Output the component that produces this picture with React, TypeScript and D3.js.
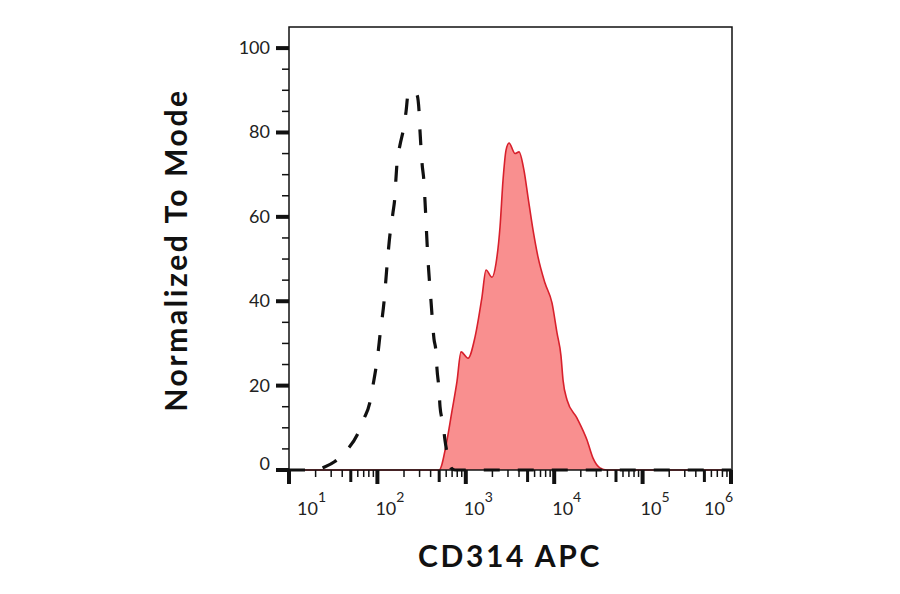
import { useRef, useEffect } from 'react';
import * as d3 from 'd3';

// Isotype control (dashed) - intensity / normalized count
const controlIntensity = [10, 21, 24, 33, 45, 59, 69, 82, 89, 96, 102, 107, 119, 128, 139, 150, 158, 162, 167, 180, 200, 211, 222, 246, 280, 296, 303, 311, 320, 337, 345, 373, 404, 437, 460, 472, 498, 511, 552, 582, 629, 681, 755, 1000000];
const controlCount = [0, 0, 0.5, 2, 4.7, 8.3, 11.8, 15.9, 20, 24, 28, 32, 40, 48, 56, 61, 65, 69, 73, 77, 81.5, 85, 89, 90, 89, 85, 80.5, 76.5, 72.7, 68, 64, 50, 40, 31, 28, 24, 19, 15, 11, 7, 3, 0.5, 0, 0];

// CD314 APC stained (red filled)
const stainIntensity = [10, 498, 612, 698, 795, 883, 1060, 1271, 1524, 1693, 1978, 2197, 2438, 2637, 2852, 3084, 3606, 4000, 4552, 5054, 5758, 6557, 7870, 9441, 10760, 11940, 12590, 13970, 18120, 23500, 27480, 32960, 39560, 1000000];
const stainCount = [0, 0, 7, 14, 21, 28, 26.5, 31.5, 41, 47.4, 45.7, 49, 57.6, 68.7, 75.8, 77.5, 75, 75.4, 71, 64.7, 56.9, 50.5, 44.3, 39.6, 32.5, 27, 21.3, 16.6, 12.3, 7.1, 2.8, 0.5, 0, 0];

const xMajorTicks = [1e1, 1e2, 1e3, 1e4, 1e5, 1e6];
const xMinorMultipliers = [2, 3, 4, 5, 6, 7, 8, 9];
const xTickExponents = ['1', '2', '3', '4', '5', '6'];
const yMajorTicks = [0, 20, 40, 60, 80, 100];
const yMinorTicks = [5, 10, 15, 25, 30, 35, 45, 50, 55, 65, 70, 75, 85, 90, 95];

const FONT = 'Lato, "Open Sans", sans-serif';

export default function App() {
    const chartRef = useRef<SVGSVGElement>(null);

    useEffect(() => {
        if (!chartRef.current) return;
        const svg = d3.select(chartRef.current);
        svg.selectAll('*').remove();

        const left = 289, right = 731, top = 27, bottom = 470;

        const x = d3.scaleLog().domain([10, 1e6]).range([left, right]);
        const y = d3.scaleLinear().domain([0, 105]).range([bottom, top]);

        const line = d3.line<[number, number]>()
            .x(d => x(d[0]))
            .y(d => y(d[1]))
            .curve(d3.curveMonotoneX);
        const area = d3.area<[number, number]>()
            .x(d => x(d[0]))
            .y0(y(0))
            .y1(d => y(d[1]))
            .curve(d3.curveMonotoneX);

        const stainData = stainIntensity.map((v, i) => [v, stainCount[i]] as [number, number]);
        const controlData = controlIntensity.map((v, i) => [v, controlCount[i]] as [number, number]);

        // Filled stained histogram
        svg.append('path')
            .attr('d', area(stainData))
            .attr('fill', '#f98f8f');
        svg.append('path')
            .attr('d', line(stainData))
            .attr('fill', 'none')
            .attr('stroke', '#d8202c')
            .attr('stroke-width', 1.6);

        // Dashed isotype control
        svg.append('path')
            .attr('d', line(controlData))
            .attr('fill', 'none')
            .attr('stroke', '#111')
            .attr('stroke-width', 3.2)
            .attr('stroke-dasharray', '16,18');

        // Frame
        svg.append('path')
            .attr('d', `M${left},${bottom}V${top}H${right + 1}V${bottom}`)
            .attr('fill', 'none')
            .attr('stroke', '#111')
            .attr('stroke-width', 1.5);
        svg.append('line')
            .attr('x1', left).attr('x2', right + 1)
            .attr('y1', bottom).attr('y2', bottom)
            .attr('stroke', '#111').attr('stroke-width', 1.5);

        // Y ticks
        yMinorTicks.forEach(t => {
            svg.append('line')
                .attr('x1', left - 7).attr('x2', left)
                .attr('y1', y(t)).attr('y2', y(t))
                .attr('stroke', '#111').attr('stroke-width', 1.5);
        });
        yMajorTicks.forEach(t => {
            svg.append('line')
                .attr('x1', left - 13).attr('x2', left)
                .attr('y1', y(t)).attr('y2', y(t))
                .attr('stroke', '#111').attr('stroke-width', 4);
            svg.append('text')
                .attr('x', left - 19)
                .attr('y', y(t) + (t === 0 ? 0 : 6))
                .attr('text-anchor', 'end')
                .style('font-family', FONT)
                .style('font-size', '18px')
                .style('fill', '#222')
                .text(t);
        });

        // X ticks
        xMajorTicks.slice(0, -1).forEach(decade => {
            xMinorMultipliers.forEach(m => {
                const px = x(decade * m);
                svg.append('line')
                    .attr('x1', px).attr('x2', px)
                    .attr('y1', bottom).attr('y2', bottom + (m === 5 ? 12 : 7))
                    .attr('stroke', '#111').attr('stroke-width', m === 5 ? 3 : 1.5);
            });
        });
        xMajorTicks.forEach((t, i) => {
            const px = x(t);
            svg.append('line')
                .attr('x1', px).attr('x2', px)
                .attr('y1', bottom).attr('y2', bottom + 14)
                .attr('stroke', '#111').attr('stroke-width', 4);
            const last = i === xMajorTicks.length - 1;
            const label = svg.append('text')
                .attr('x', i === 0 ? px + 8 : last ? px + 2 : px - 2)
                .attr('y', 515)
                .attr('text-anchor', last ? 'end' : 'start')
                .style('font-family', FONT)
                .style('font-size', '18px')
                .style('fill', '#222');
            label.append('tspan').text('10');
            label.append('tspan')
                .attr('dy', -13)
                .style('font-size', '14px')
                .text(xTickExponents[i]);
        });

        // Axis titles
        svg.append('text')
            .attr('x', 510)
            .attr('y', 567)
            .attr('text-anchor', 'middle')
            .style('font-family', FONT)
            .style('font-weight', 'bold')
            .style('font-size', '30px')
            .style('letter-spacing', '2.6px')
            .style('fill', '#111')
            .text('CD314 APC');
        svg.append('text')
            .attr('transform', 'translate(187,250) rotate(-90)')
            .attr('text-anchor', 'middle')
            .style('font-family', FONT)
            .style('font-weight', 'bold')
            .style('font-size', '30px')
            .style('letter-spacing', '2.6px')
            .style('fill', '#111')
            .text('Normalized To Mode');
    }, []);

    return (
        <svg
            ref={chartRef}
            width={900}
            height={594}
            style={{ position: 'absolute', left: 0, top: 0, background: '#fff' }}
        />
    );
}
